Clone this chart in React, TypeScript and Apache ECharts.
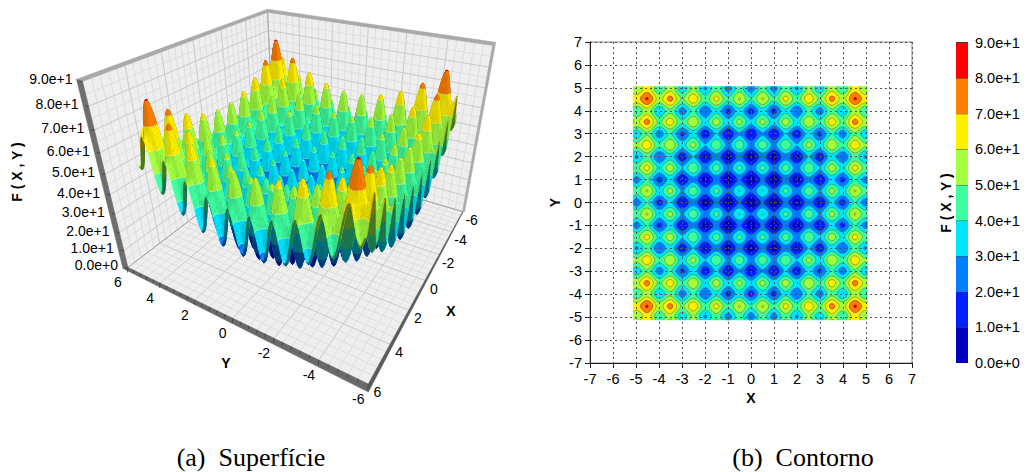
import React, { useEffect, useRef } from "react";
import * as echarts from "echarts";

// Height read per half-axis at steps of 0.0625, from x = 0 to x = 5.125. The contour picture shows
// a pattern that repeats identically along X and Y, so one estimated profile is used for both axes.
const axisProfile = [
  0, 0.8, 2.9, 6.2, 10.1, 13.9, 17.2, 19.4, 20.3, 19.6, 17.5, 14.3, 10.6, 6.8, 3.7, 1.6,
  1, 1.9, 4.2, 7.6, 11.6, 15.6, 19.0, 21.3, 22.3, 21.7, 19.7, 16.7, 13.1, 9.5, 6.4, 4.5,
  4, 5.0, 7.4, 11.0, 15.1, 19.2, 22.7, 25.2, 26.3, 25.8, 24.0, 21.1, 17.6, 14.1, 11.2, 9.4,
  9, 10.1, 12.7, 16.3, 20.6, 24.8, 28.5, 31.1, 32.3, 31.9, 30.2, 27.4, 24.1, 20.7, 17.9, 16.3,
  16, 17.3, 19.9, 23.7, 28.1, 32.4, 36.2, 38.9, 40.3, 40.1, 38.5, 35.8, 32.6, 29.3, 26.7, 25.1,
  25, 26.4, 29.2,
];
const bandLevels = [0, 10, 20, 30, 40, 50, 60, 70, 80, 90];
const bandColors = ["#0000BE", "#0020FF", "#0080FF", "#00E6FF", "#40FFA0", "#A4FF40", "#FFF000", "#FF8000", "#FF0000"];
const xyTicks = [-6, -4, -2, 0, 2, 4, 6];
const zTicks = [0, 10, 20, 30, 40, 50, 60, 70, 80, 90];
const contourTicks = 1;
const STEP = 0.0625;
const FIRST = -(axisProfile.length - 1); // the sampled domain stops at -5.125 ...
const END = 81; // ... and at about +5.06

// box corners of the perspective view: [x, y, z, px, py]
const boxAnchors = [
  [6, 6, 90, 83, 82],
  [-6, 6, 90, 267, 12],
  [-6, -6, 90, 493, 45],
  [6, 6, 0, 127, 267],
  [-6, 6, 0, 275, 156],
  [-6, -6, 0, 462, 212],
  [6, -6, 0, 369, 384],
];

function solve(A: number[][], b: number[]) {
  const n = b.length;
  const M = A.map((r, i) => [...r, b[i]]);
  for (let c = 0; c < n; c++) {
    let p = c;
    for (let r = c + 1; r < n; r++) if (Math.abs(M[r][c]) > Math.abs(M[p][c])) p = r;
    [M[c], M[p]] = [M[p], M[c]];
    for (let r = 0; r < n; r++) {
      if (r === c) continue;
      const f = M[r][c] / M[c][c];
      for (let k = c; k <= n; k++) M[r][k] -= f * M[c][k];
    }
  }
  return M.map((r, i) => r[n] / r[i]);
}

function fitCamera() {
  const rows: number[][] = [];
  const rhs: number[] = [];
  for (const [x, y, z, u, v] of boxAnchors) {
    const X = x / 6, Y = y / 6, Z = z / 45 - 1, U = u / 500, V = v / 500;
    rows.push([X, Y, Z, 1, 0, 0, 0, 0, -U * X, -U * Y, -U * Z]);
    rhs.push(U);
    rows.push([0, 0, 0, 0, X, Y, Z, 1, -V * X, -V * Y, -V * Z]);
    rhs.push(V);
  }
  const n = 11;
  const AtA = Array.from({ length: n }, (_, i) =>
    Array.from({ length: n }, (_, j) => rows.reduce((s, r) => s + r[i] * r[j], i === j ? 1e-9 : 0))
  );
  const Atb = Array.from({ length: n }, (_, i) => rows.reduce((s, r, k) => s + r[i] * rhs[k], 0));
  return solve(AtA, Atb);
}
const cam = fitCamera();
function project(x: number, y: number, z: number): [number, number] {
  const X = x / 6, Y = y / 6, Z = z / 45 - 1;
  const w = cam[8] * X + cam[9] * Y + cam[10] * Z + 1;
  return [
    (500 * (cam[0] * X + cam[1] * Y + cam[2] * Z + cam[3])) / w,
    (500 * (cam[4] * X + cam[5] * Y + cam[6] * Z + cam[7])) / w,
  ];
}

type V = { x: number; y: number; v: number };
const height = (i: number, j: number) => axisProfile[Math.abs(i)] + axisProfile[Math.abs(j)];

function clip(poly: V[], level: number, above: boolean) {
  const out: V[] = [];
  for (let i = 0; i < poly.length; i++) {
    const a = poly[i], b = poly[(i + 1) % poly.length];
    const ia = above ? a.v >= level : a.v <= level;
    const ib = above ? b.v >= level : b.v <= level;
    if (ia) out.push(a);
    if (ia !== ib) {
      const t = (level - a.v) / (b.v - a.v);
      out.push({ x: a.x + t * (b.x - a.x), y: a.y + t * (b.y - a.y), v: level });
    }
  }
  return out;
}
function cellCorners(i: number, j: number): V[] {
  return [
    [i, j], [i + 1, j], [i + 1, j + 1], [i, j + 1],
  ].map(([a, b]) => ({ x: a * STEP, y: b * STEP, v: height(a, b) }));
}
function bandsOf(c: V[]) {
  const res: { band: number; poly: V[] }[] = [];
  const lo = Math.min(c[0].v, c[1].v, c[2].v, c[3].v), hi = Math.max(c[0].v, c[1].v, c[2].v, c[3].v);
  for (let b = 0; b < bandColors.length; b++) {
    if (hi < bandLevels[b] || lo >= bandLevels[b + 1]) continue;
    if (lo >= bandLevels[b] && hi <= bandLevels[b + 1]) {
      res.push({ band: b, poly: c });
      continue;
    }
    const p = clip(clip(c, bandLevels[b], true), bandLevels[b + 1], false);
    if (p.length >= 3) res.push({ band: b, poly: p });
  }
  return res;
}
function contoursOf(c: V[]) {
  const res: V[][] = [];
  for (let b = 1; b < bandLevels.length - 1; b++) {
    const L = bandLevels[b];
    const pts: V[] = [];
    for (let i = 0; i < 4; i++) {
      const p = c[i], q = c[(i + 1) % 4];
      if (p.v < L !== q.v < L) {
        const t = (L - p.v) / (q.v - p.v);
        pts.push({ x: p.x + t * (q.x - p.x), y: p.y + t * (q.y - p.y), v: L });
      }
    }
    for (let k = 0; k + 1 < pts.length; k += 2) res.push([pts[k], pts[k + 1]]);
  }
  return res;
}
function shade(hex: string, f: number) {
  const n = parseInt(hex.slice(1), 16);
  const ch = (s: number) => Math.max(0, Math.min(255, Math.round(((n >> s) & 255) * f)));
  return `rgb(${ch(16)},${ch(8)},${ch(0)})`;
}
const area2 = (p: [number, number][]) => {
  let s = 0;
  for (let i = 0; i < p.length; i++) {
    const a = p[i], b = p[(i + 1) % p.length];
    s += a[0] * b[1] - b[0] * a[1];
  }
  return s;
};
const floorSign = Math.sign(area2([project(0, 0, 0), project(1, 0, 0), project(1, 1, 0), project(0, 1, 0)]));
const polyPath = (pts: number[][], closed = true) => {
  let d = "";
  for (let i = 0; i < pts.length; i++) d += (i ? "L" : "M") + pts[i][0].toFixed(2) + " " + pts[i][1].toFixed(2);
  return closed ? d + "Z" : d;
};

const line = (a: [number, number], b: [number, number], stroke: string, lineWidth = 1) => ({
  type: "line",
  shape: { x1: a[0], y1: a[1], x2: b[0], y2: b[1] },
  style: { stroke, lineWidth },
});
const band = (a: [number, number], b: [number, number], da: number[], db: number[], fill: string) => ({
  type: "polygon",
  shape: { points: [a, b, [b[0] + db[0], b[1] + db[1]], [a[0] + da[0], a[1] + da[1]]] },
  style: { fill, stroke: fill, lineWidth: 0.5 },
});

function buildBox() {
  const out: any[] = [];
  const wall = (pts: [number, number][]) =>
    out.push({ type: "polygon", shape: { points: pts }, style: { fill: "#EEEEEE" } });
  wall([project(6, 6, 0), project(-6, 6, 0), project(-6, 6, 90), project(6, 6, 90)]);
  wall([project(-6, 6, 0), project(-6, -6, 0), project(-6, -6, 90), project(-6, 6, 90)]);
  wall([project(6, 6, 0), project(-6, 6, 0), project(-6, -6, 0), project(6, -6, 0)]);
  const minor = "#DEDEDE", major = "#CACACA";
  for (let k = 0; k <= 30; k++) {
    const t = -6 + k * 0.4;
    const col = k % 5 === 0 ? major : minor;
    out.push(line(project(t, 6, 0), project(t, 6, 90), col));
    out.push(line(project(-6, t, 0), project(-6, t, 90), col));
    out.push(line(project(t, 6, 0), project(t, -6, 0), col));
    out.push(line(project(6, t, 0), project(-6, t, 0), col));
  }
  for (let z = 0; z <= 90; z += 5) {
    const col = z % 10 === 0 ? major : minor;
    out.push(line(project(6, 6, z), project(-6, 6, z), col));
    out.push(line(project(-6, 6, z), project(-6, -6, z), col));
  }
  out.push(line(project(6, 6, 0), project(-6, 6, 0), "#A8A8A8"));
  out.push(line(project(-6, 6, 0), project(-6, -6, 0), "#A8A8A8"));
  out.push(line(project(-6, 6, 0), project(-6, 6, 90), "#A8A8A8"));
  out.push(band(project(6, 6, 90), project(-6, 6, 90), [-6, -2], [0, -3], "#A9A9A9"));
  out.push(band(project(-6, 6, 90), project(-6, -6, 90), [0, -3], [3, -3], "#A9A9A9"));
  out.push(band(project(-6, -6, 90), project(-6, -6, 0), [3, -3], [2, 0], "#A9A9A9"));
  out.push(band(project(6, 6, 90), project(6, 6, 0), [-6, -2], [-5, 1], "#6E6E6E"));
  out.push(band(project(6, 6, 0), project(6, -6, 0), [-5, 1], [0, 8], "#6A6A6A"));
  out.push(band(project(6, -6, 0), project(-6, -6, 0), [0, 8], [0, 1], "#5A5A5A"));
  for (let k = 0; k <= 30; k++) {
    const p = project(6, 6 - k * 0.4, 0);
    out.push(line(p, [p[0] - 0.5, p[1] + (k % 5 === 0 ? 5 : 3)], "#333333", 0.7));
  }
  for (const z of zTicks) {
    const p = project(6, 6, z);
    out.push(line(p, [p[0] - 3, p[1]], "#333333", 0.7));
  }
  return out;
}
const boxItems = buildBox();

// Surface: cells painted from the back corner to the front, runs of one colour share a path
function buildSurface() {
  const out: any[] = [];
  let runColor = "";
  let runPath = "";
  const flush = () => {
    if (runPath) {
      out.push({ type: "path", shape: { pathData: runPath }, style: { fill: runColor, stroke: runColor, lineWidth: 0.4 } });
    }
    runPath = "";
  };
  for (let i = FIRST; i < END; i++) {
    for (let j = END - 1; j >= FIRST; j--) {
      const c = cellCorners(i, j);
      const scr = c.map((p) => project(p.x, p.y, p.v));
      const back = Math.sign(area2(scr)) !== floorSign;
      const s = (12 / 90) * 0.8;
      const dzx = ((c[1].v + c[2].v - c[0].v - c[3].v) / (2 * STEP)) * s;
      const dzy = ((c[2].v + c[3].v - c[0].v - c[1].v) / (2 * STEP)) * s;
      const nl = Math.hypot(dzx, dzy, 1);
      const dot = Math.max(0, (dzx * 0.35 + dzy * 0.35 + 0.87) / nl);
      const f = back ? 0.45 : Math.min(1, Math.round((0.86 + 0.6 * dot) * 16) / 16);
      for (const { band: b, poly } of bandsOf(c)) {
        const col = shade(bandColors[b], f);
        if (col !== runColor) {
          flush();
          runColor = col;
        }
        runPath += polyPath(poly.map((p) => project(p.x, p.y, p.v)));
      }
      const segs = contoursOf(c);
      if (segs.length && !back) {
        flush();
        let d = "";
        for (const [a, q] of segs) d += polyPath([project(a.x, a.y, a.v), project(q.x, q.y, q.v)], false);
        out.push({
          type: "path",
          shape: { pathData: d },
          style: { fill: "none", stroke: "rgba(255,255,255,0.7)", lineWidth: 0.6 },
        });
      }
    }
  }
  flush();
  return out;
}
const surfaceItems = buildSurface();

// Contour map: every band and the isolines are one path each, all through api.coord
const bandPolys: V[][][] = bandColors.map(() => []);
const isoSegments: V[][] = [];
for (let i = FIRST; i < END; i++) {
  for (let j = FIRST; j < END; j++) {
    const c = cellCorners(i, j);
    for (const { band: b, poly } of bandsOf(c)) bandPolys[b].push(poly);
    for (const s of contoursOf(c)) isoSegments.push(s);
  }
}
function renderContour(params: any, api: any) {
  const k = params.dataIndex;
  const toPx = (p: V) => api.coord([p.x, p.y]);
  if (k === bandColors.length) {
    let d = "";
    for (const s of isoSegments) d += polyPath(s.map(toPx), false);
    return { type: "path", shape: { pathData: d }, style: { fill: "none", stroke: "rgba(40,40,30,0.6)", lineWidth: 0.6 } };
  }
  let d = "";
  for (const poly of bandPolys[k]) d += polyPath(poly.map(toPx));
  return { type: "path", shape: { pathData: d }, style: { fill: bandColors[k], stroke: bandColors[k], lineWidth: 0.4 } };
}

function renderLegend(params: any, api: any) {
  const b = params.dataIndex;
  const a = api.coord([0, bandLevels[b + 1]]);
  const d = api.coord([1, bandLevels[b]]);
  return {
    type: "group",
    children: [
      { type: "rect", shape: { x: a[0], y: a[1], width: d[0] - a[0], height: d[1] - a[1] }, style: { fill: bandColors[b] } },
      line([a[0], a[1]], [d[0], a[1]], "#222222", 0.8),
    ],
  };
}

const SANS = "'Liberation Sans', Arial, sans-serif";
const label = (text: string, x: number, y: number, align = "center", size = 14.5, weight = "normal", rotation = 0) => ({
  type: "text",
  x,
  y,
  rotation,
  silent: true,
  style: { text, fill: "#000", textAlign: align, textVerticalAlign: "middle", font: `${weight} ${size}px ${SANS}` },
});

function buildLabels() {
  const out: any[] = [];
  for (const z of zTicks) {
    const p = project(6, 6, z);
    out.push(label(z.toExponential(1), p[0] - 10, p[1] - 2, "right", 14));
  }
  for (const t of xyTicks) {
    const py = project(6, t, 0);
    out.push(label(String(t), py[0] - 10, py[1] + 15, "center", 14));
    const px = project(t, -6, 0);
    out.push(label(String(t), px[0] + 9, px[1] + 8, "center", 14));
  }
  out.push(label("X", 451, 311, "center", 14, "bold"));
  out.push(label("Y", 226, 363, "center", 14, "bold"));
  out.push(label("F ( X , Y )", 17, 172, "center", 14, "bold", Math.PI / 2));
  out.push(label("F ( X , Y )", 946, 203, "center", 14, "bold", Math.PI / 2));
  for (const [t, x] of [["(a)  Superfície", 251], ["(b)  Contorno", 803]] as [string, number][]) {
    out.push({
      type: "text", x, y: 457, silent: true,
      style: { text: t, fill: "#000", textAlign: "center", textVerticalAlign: "middle", font: "26px 'Liberation Serif', serif" },
    });
  }
  return out;
}

export default function App() {
  const ref = useRef<HTMLDivElement>(null);
  useEffect(() => {
    document.body.style.margin = "0";
    const chart = echarts.init(ref.current!, undefined, { renderer: "svg" });
    const axisLabel = { fontFamily: SANS, fontSize: 14.5, color: "#000" };
    const contourAxis = {
      type: "value", min: -7, max: 7, interval: contourTicks, z: 3,
      axisLine: { onZero: false, lineStyle: { color: "#222", width: 1 } },
      axisTick: { length: 5, lineStyle: { color: "#222" } },
      axisLabel: { ...axisLabel, margin: 8, showMinLabel: true, showMaxLabel: true, hideOverlap: false },
      splitLine: { show: true, lineStyle: { color: "#555", type: [2, 3], width: 1 } },
      nameLocation: "middle",
      nameTextStyle: { fontFamily: SANS, fontSize: 14, fontWeight: "bold", color: "#000" },
    };
    chart.setOption({
      animation: false,
      backgroundColor: "#fff",
      grid: [
        { left: 590, top: 42, width: 322, height: 321, show: true, borderColor: "#888", borderWidth: 1 },
        { left: 956, top: 42.5, width: 12, height: 320.5 },
      ],
      xAxis: [
        { ...contourAxis, gridIndex: 0, name: "X", nameGap: 26 },
        { type: "value", gridIndex: 1, min: 0, max: 1, show: false },
      ],
      yAxis: [
        { ...contourAxis, gridIndex: 0, name: "Y", nameGap: 28 },
        {
          type: "value", gridIndex: 1, min: 0, max: 90, interval: 10, position: "right",
          axisLine: { show: false }, axisTick: { show: false }, splitLine: { show: false },
          axisLabel: { ...axisLabel, margin: 7, formatter: (v: number) => v.toExponential(1) },
        },
      ],
      graphic: { elements: buildLabels() },
      series: [
        {
          type: "custom", coordinateSystem: "none", silent: true, z: 1,
          data: boxItems.map((_, i) => [i]),
          renderItem: (p: any) => boxItems[p.dataIndex],
        },
        {
          type: "custom", coordinateSystem: "none", silent: true, z: 2,
          data: [[0]],
          renderItem: () => ({ type: "group", children: surfaceItems }),
        },
        {
          type: "custom", coordinateSystem: "cartesian2d", xAxisIndex: 0, yAxisIndex: 0, silent: true, z: 2,
          data: [...bandColors, "lines"].map((_, i) => [0, i - 5]),
          renderItem: renderContour,
        },
        {
          type: "custom", coordinateSystem: "cartesian2d", xAxisIndex: 1, yAxisIndex: 1, silent: true, z: 2,
          data: bandColors.map((_, i) => [0, bandLevels[i]]), renderItem: renderLegend,
        },
      ],
    });
    return () => chart.dispose();
  }, []);
  return <div ref={ref} style={{ position: "absolute", left: 0, top: 0, width: 1026, height: 472 }} />;
}
